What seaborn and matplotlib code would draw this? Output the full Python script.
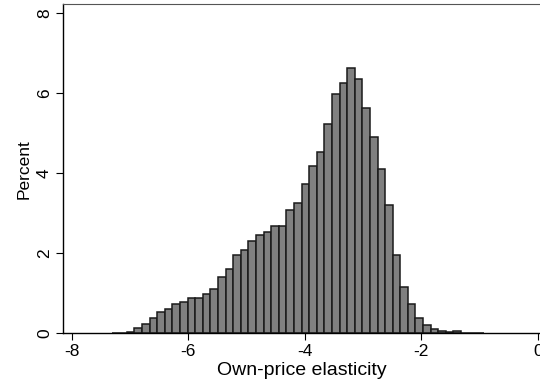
import numpy as np
import pandas as pd
import matplotlib
matplotlib.use("Agg")
import matplotlib.pyplot as plt
import seaborn as sns

# Histogram data (percent per bin)
bin_start = -7.314
bin_width = 0.1303
percent = [0.01, 0.01, 0.03, 0.14, 0.23, 0.375, 0.54, 0.60, 0.725, 0.79,
           0.89, 0.89, 0.99, 1.12, 1.40, 1.62, 1.97, 2.09, 2.30, 2.46,
           2.54, 2.68, 2.675, 3.09, 3.27, 3.73, 4.18, 4.525, 5.23, 5.98,
           6.25, 6.64, 6.35, 5.64, 4.92, 4.10, 3.22, 1.97, 1.15, 0.73,
           0.375, 0.20, 0.12, 0.05, 0.025, 0.05, 0.015, 0.01, 0.01]
x_ticks = [-8, -6, -4, -2, 0]
y_ticks = [0, 2, 4, 6, 8]
x_label = "Own-price elasticity"
y_label = "Percent"

n = len(percent)
centers = bin_start + bin_width * (np.arange(n) + 0.5)
df = pd.DataFrame({"elasticity": centers, "percent": percent})

sns.set_style("white")
plt.rcParams["font.family"] = ["Liberation Sans", "DejaVu Sans"]
plt.rcParams["text.color"] = "black"
plt.rcParams["axes.labelcolor"] = "black"
plt.rcParams["xtick.color"] = "black"
plt.rcParams["ytick.color"] = "black"

fig = plt.figure(figsize=(5.4, 3.87), dpi=100)
ax = fig.add_axes([63 / 540, (387 - 333.3) / 387, 1 - 63 / 540, (333.3 - 4) / 387])

sns.histplot(data=df, x="elasticity", weights="percent",
             binwidth=bin_width, binrange=(bin_start, bin_start + bin_width * n),
             color="#808080", edgecolor="#1a1a1a", linewidth=1.1, alpha=1.0,
             ax=ax)

ax.set_xlim(-8.149, 0.034)
ax.set_ylim(0, 8.233)
ax.set_xticks(x_ticks)
ax.set_yticks(y_ticks)
ax.set_xticklabels([str(t) for t in x_ticks])
ax.set_yticklabels([str(t) for t in y_ticks], rotation=90, va="center")
ax.set_xlabel(x_label, fontsize=14, labelpad=2, color="black")
ax.set_ylabel(y_label, fontsize=12.5, labelpad=4, color="black")
ax.tick_params(axis="both", direction="out", length=5, width=0.8,
               color="black", labelcolor="black", labelsize=12.5,
               bottom=True, left=True, pad=3)
for s in ["left", "bottom"]:
    ax.spines[s].set_color("black")
    ax.spines[s].set_linewidth(1.0)
ax.spines["top"].set_color("#555555")
ax.spines["top"].set_linewidth(0.8)
ax.spines["right"].set_visible(False)

fig.savefig("out.png", dpi=100)
